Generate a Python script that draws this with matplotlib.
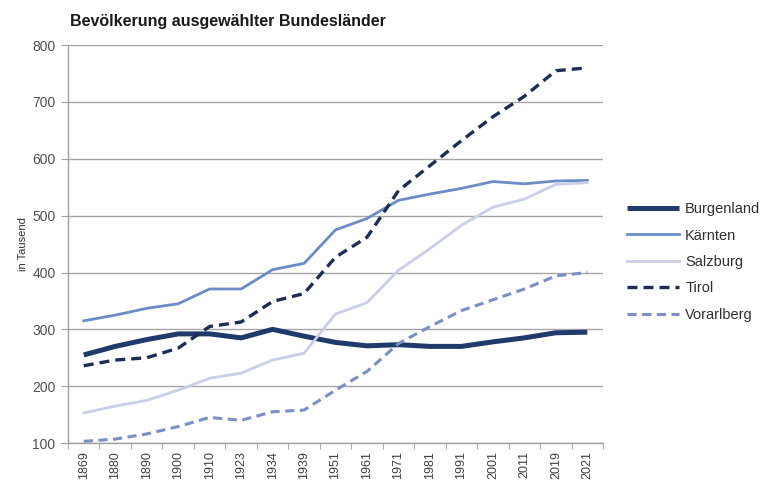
import matplotlib
matplotlib.use("Agg")
import matplotlib.pyplot as plt
import numpy as np

plt.rcParams['font.family'] = ['Liberation Sans', 'DejaVu Sans']

years = ["1869", "1880", "1890", "1900", "1910", "1923", "1934", "1939", "1951",
         "1961", "1971", "1981", "1991", "2001", "2011", "2019", "2021"]
burgenland = [255, 270, 282, 292, 292, 285, 300, 288, 277, 271, 273, 270, 270, 278, 285, 294, 295]
kaernten = [315, 325, 337, 345, 371, 371, 405, 416, 475, 495, 527, 538, 548, 560, 556, 561, 562]
salzburg = [153, 165, 175, 193, 214, 223, 246, 258, 327, 347, 404, 442, 483, 515, 529, 555, 558]
tirol = [236, 246, 250, 267, 305, 313, 349, 363, 427, 462, 544, 588, 632, 674, 710, 755, 760]
vorarlberg = [103, 107, 116, 129, 145, 140, 155, 158, 193, 226, 275, 305, 333, 352, 371, 394, 400]

fig = plt.figure(figsize=(7.6, 4.8), dpi=100)
ax = fig.add_axes([0.0895, 0.077, 0.704, 0.829])
x = np.arange(len(years))

ax.plot(x, burgenland, color='#1f3a6b', lw=3.6, solid_capstyle='butt', label='Burgenland')
ax.plot(x, kaernten, color='#6b8cc6', lw=2.0, label='Kärnten')
ax.plot(x, salzburg, color='#c8cfe6', lw=2.0, label='Salzburg')
ax.plot(x, tirol, color='#1d2d58', lw=2.4, ls=(0, (3, 1.8)), label='Tirol')
ax.plot(x, vorarlberg, color='#7b8fc6', lw=2.2, ls=(0, (3, 1.8)), label='Vorarlberg')

ax.set_xlim(-0.5, len(years) - 0.5)
ax.set_ylim(100, 800)
ax.set_yticks(range(100, 801, 100))
ax.set_xticks(x)
ax.set_xticklabels(years, rotation=90, fontsize=9, color='#404040')
ax.set_xticks(np.arange(-0.5, len(years)), minor=True)
ax.tick_params(axis='x', which='major', length=0, pad=6)
ax.tick_params(axis='x', which='minor', length=4, color='#a0a0a0', direction='out')
ax.tick_params(axis='y', length=5, color='#a0a0a0', labelsize=10, labelcolor='#505050', pad=4)

ax.grid(axis='y', color='#a6a6a6', lw=1.0)
ax.set_axisbelow(True)
for s in ['top', 'right']:
    ax.spines[s].set_visible(False)
for s in ['left', 'bottom']:
    ax.spines[s].set_color('#a0a0a0')
    ax.spines[s].set_linewidth(1.0)

ax.set_ylabel('in Tausend', fontsize=8, color='#303030', labelpad=3)

fig.text(0.092, 0.955, 'Bevölkerung ausgewählter Bundesländer', fontsize=11.5,
         fontweight='bold', color='#1a1a1a', va='center', ha='left')

leg = ax.legend(loc='center left', bbox_to_anchor=(1.02, 0.455), frameon=False,
                fontsize=10.5, handlelength=3.6, handletextpad=0.4, labelspacing=0.85)
for t in leg.get_texts():
    t.set_color('#303030')

fig.savefig('out.png', dpi=100)
